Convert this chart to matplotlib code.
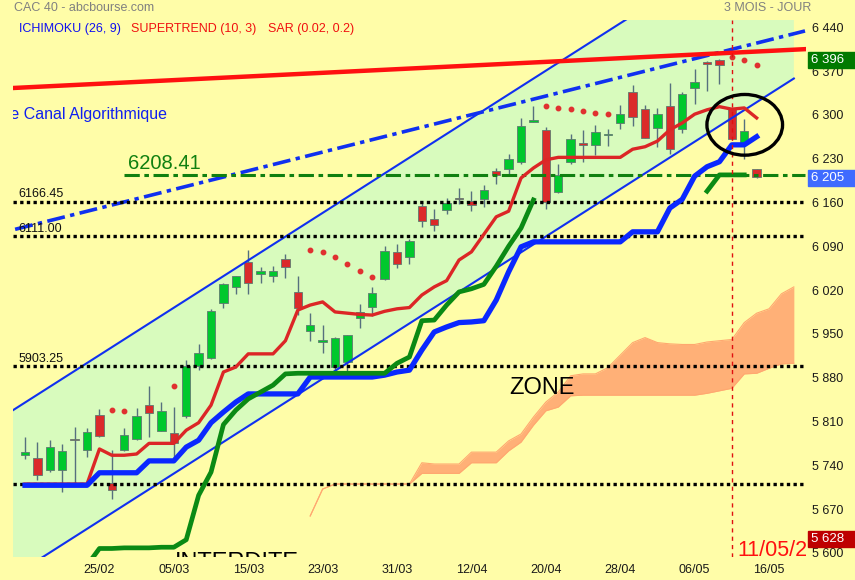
import numpy as np
import matplotlib
matplotlib.use('Agg')
import matplotlib.pyplot as plt
from matplotlib.patches import Ellipse, Rectangle
import matplotlib.transforms as mtransforms

plt.rcParams['font.family'] = ['Liberation Sans', 'DejaVu Sans']

# ---- données (CAC 40, bougies journalières) ----
opens = [5762, 5757, 5737, 5737, 5787, 5770, 5825, 5717, 5769, 5787,
         5841, 5800, 5796, 5823, 5903, 5916, 6004, 6030, 6070, 6050,
         6048, 6075, 6022, 5960, 5942, 5902, 5910, 5980, 5998, 6043,
         6085, 6078, 6160, 6138, 6153, 6172, 6167, 6171, 6215, 6219,
         6229, 6294, 6281, 6181, 6230, 6260, 6256, 6273, 6292, 6341,
         6315, 6284, 6319, 6283, 6348, 6389, 6393, 6314, 6259, 6218]
highs = [5790, 5782, 5785, 5779, 5806, 5804, 5835, 5769, 5804, 5836,
         5872, 5846, 5838, 5913, 5939, 5994, 6037, 6047, 6089, 6062,
         6063, 6082, 6047, 5988, 5969, 5950, 5953, 6003, 6030, 6095,
         6098, 6106, 6164, 6155, 6172, 6188, 6183, 6193, 6220, 6243,
         6300, 6319, 6286, 6227, 6274, 6281, 6289, 6282, 6320, 6353,
         6320, 6316, 6356, 6341, 6378, 6391, 6394, 6315, 6299, 6219]
lows = [5755, 5722, 5735, 5703, 5717, 5758, 5790, 5691, 5767, 5786,
        5790, 5799, 5752, 5820, 5897, 5914, 5997, 6019, 6019, 6036,
        6038, 6045, 5985, 5944, 5924, 5898, 5895, 5964, 5984, 6041,
        6060, 6066, 6126, 6120, 6146, 6162, 6152, 6157, 6194, 6210,
        6227, 6293, 6155, 6180, 6227, 6229, 6241, 6255, 6283, 6287,
        6268, 6254, 6242, 6276, 6323, 6343, 6355, 6266, 6235, 6204]
closes = [5766, 5729, 5774, 5768, 5785, 5798, 5791, 5706, 5793, 5823,
          5829, 5831, 5780, 5903, 5925, 5991, 6035, 6047, 6036, 6055,
          6055, 6062, 5997, 5969, 5945, 5948, 5953, 5990, 6020, 6088,
          6067, 6103, 6136, 6129, 6164, 6170, 6161, 6185, 6209, 6234,
          6287, 6297, 6166, 6209, 6267, 6256, 6277, 6274, 6307, 6302,
          6268, 6307, 6251, 6339, 6357, 6386, 6384, 6267, 6279, 6205]

supertrend = [5715, 5715, 5715, 5715, 5715, 5715, 5771, 5761, 5761, 5763,
              5780, 5780, 5780, 5801, 5813, 5841, 5894, 5902, 5923, 5923,
              5923, 5944, 5993, 6001, 6006, 5990, 5988, 5986, 5985, 5991,
              5995, 5997, 6017, 6030, 6040, 6073, 6086, 6114, 6142, 6151,
              6204, 6220, 6233, 6237, 6237, 6237, 6237, 6237, 6237, 6250,
              6254, 6263, 6281, 6292, 6306, 6313, 6318, 6314, 6316, 6300]

kijun = [5713, 5713, 5713, 5713, 5713, 5713, 5733, 5733, 5733, 5733,
         5752, 5752, 5752, 5774, 5785, 5813, 5830, 5846, 5859, 5859,
         5859, 5859, 5859, 5886, 5886, 5886, 5886, 5886, 5886, 5889,
         5894, 5897, 5929, 5958, 5966, 5973, 5974, 5976, 6009, 6054,
         6094, 6102, 6102, 6102, 6102, 6102, 6102, 6102, 6102, 6118,
         6118, 6118, 6156, 6170, 6207, 6222, 6230, 6257, 6257, 6270]

nan = np.nan
green_line = [nan, nan, nan, nan, nan, 5585, 5612, 5612, 5613, 5613,
              5613, 5614, 5614, 5626, 5697, 5734, 5810, 5833, 5851, 5862,
              5873, 5891, 5892, 5892, 5892, 5892, 5892, 5892, 5892, 5892,
              5908, 5918, 5976, 5977, 6001, 6022, 6027, 6034, 6063, 6095,
              6124, 6169, nan, nan, nan, nan, nan, nan, nan, nan,
              nan, nan, nan, nan, nan, 6183, 6209, 6209, 6209, nan]

sar = [nan] * 60
for k, v in {7: 5834, 8: 5832, 12: 5872, 23: 6089, 24: 6086, 25: 6078,
             26: 6067, 27: 6055, 28: 6046, 42: 6319, 43: 6316, 44: 6314,
             45: 6311, 46: 6308, 47: 6307, 57: 6397, 58: 6392, 59: 6384}.items():
    sar[k] = v

# nuage ichimoku (index 23 -> 62)
cloud_x = list(range(23, 63))
cloud_top = [5664, 5707, 5715, 5715, 5715, 5715, 5715, 5715, 5715, 5749,
             5747, 5747, 5747, 5766, 5766, 5766, 5784, 5795, 5822, 5846,
             5862, 5888, 5891, 5891, 5901, 5921, 5941, 5949, 5941, 5939,
             5938, 5938, 5942, 5944, 5946, 5973, 5988, 5995, 6019, 6030]
cloud_bot = [5664, 5707, 5715, 5715, 5715, 5715, 5715, 5715, 5715, 5732,
             5732, 5732, 5732, 5749, 5749, 5749, 5768, 5782, 5809, 5832,
             5838, 5856, 5857, 5857, 5857, 5857, 5857, 5857, 5857, 5857,
             5857, 5857, 5860, 5864, 5868, 5891, 5892, 5900, 5907, 5908]

# canal algorithmique
chan_x = [-0.97, 62.0]
chan_low = [5568, 6363]
chan_width = 265
mid_x = [-0.8, 62.9]
mid_y = [6122, 6439]
res_x = [-0.8, 63.0]
res_y = [6348, 6410]

levels = [6166.45, 6111.00, 5903.25, 5714.5]
level_labels = ['6166.45', '6111.00', '5903.25', '']
pivot = 6208.41

date_pos = [6, 12, 18, 24, 30, 36, 42, 48, 54, 60]
date_labels = ['25/02', '05/03', '15/03', '23/03', '31/03',
               '12/04', '20/04', '28/04', '06/05', '16/05']
price_ticks = list(range(5600, 6441, 70))

# ---- couleurs ----
bg = '#FFFDA8'
chan_fill = '#D8FBBD'
c_up = '#00C82D'
c_down = '#DB2A2A'

fig = plt.figure(figsize=(8.55, 5.80), dpi=100, facecolor=bg)
ax = fig.add_axes([13 / 855, 23 / 580, 793 / 855, 537 / 580], facecolor=bg)
for s in ax.spines.values():
    s.set_visible(False)
ax.set_xlim(-0.97, 62.98)
ax.set_ylim(5598.4, 6456.5)

# canal
lo = np.array(chan_low)
ax.fill_between(chan_x, lo, lo + chan_width, color=chan_fill, lw=0, zorder=0)
ax.plot(chan_x, lo, color='#1030F0', lw=1.5, zorder=5)
ax.plot(chan_x, lo + chan_width, color='#1030F0', lw=1.5, zorder=5)
ax.plot(mid_x, mid_y, color='#1030F0', lw=2.6, dashes=(5, 1.5, 1.2, 1.5), zorder=5)
ax.plot(res_x, res_y, color='#FF1010', lw=3.2, zorder=5)

# nuage
ax.fill_between(cloud_x, cloud_bot, cloud_top, color='#FFB077', lw=0, zorder=1)
ax.plot(cloud_x, cloud_top, color='#FFA870', lw=0.8, zorder=1)
ax.plot(cloud_x, cloud_bot, color='#FFA870', lw=0.8, zorder=1)

# niveaux horizontaux
for lv, lab in zip(levels, level_labels):
    ax.plot([-0.97, 62.7], [lv, lv], color='black', lw=2.4, dashes=(1, 1), zorder=6)
    if lab:
        ax.text(-0.56, lv + 2, lab, fontsize=9, color='#111111', va='bottom', zorder=7)
ax.plot([7.98, 62.9], [pivot, pivot], color='#108010', lw=2.2,
        dashes=(5, 1.5, 1.5, 1.5), zorder=6)
ax.text(8.3, pivot + 4, '6208.41', fontsize=14.5, color='#108010', va='bottom', zorder=7)

# bougies
x = np.arange(len(opens))
o = np.array(opens, float)
h = np.array(highs, float)
l = np.array(lows, float)
c = np.array(closes, float)
up = c >= o
ax.vlines(x, l, h, color='#56707E', lw=1, zorder=3)
ax.bar(x, np.maximum(np.abs(c - o), 2.0), bottom=np.minimum(o, c), width=0.68,
       color=np.where(up, c_up, c_down), edgecolor='#5F7A70', lw=0.6, zorder=4)

# indicateurs
ax.plot(x, supertrend, color='#DC2626', lw=2.4, zorder=8, solid_joinstyle='round')
ax.plot(x, kijun, color='#0A28FF', lw=3.8, zorder=8, solid_joinstyle='round')
ax.plot(x, green_line, color='#0A8A14', lw=3.4, zorder=8, solid_joinstyle='round')
ax.plot(x, sar, 'o', ms=3.2, color='#E03030', zorder=9)

# date courante
ax.axvline(57, color='#E01010', lw=1, dashes=(3, 3), zorder=9)
ax.text(57.46, 5599.5, '11/05/2021', fontsize=15.5, color='#FF1010', va='baseline',
        clip_on=True, zorder=9)
ax.add_patch(Ellipse((58.04, 6289), 6.1, 97, fill=False, ec='black', lw=2.4, zorder=10))

# textes
ax.text(41.7, 5868, 'ZONE', fontsize=17, color='black', ha='center', va='center', zorder=9)
ax.text(17.1, 5607, 'INTERDITE', fontsize=17, color='black', ha='center', va='top',
        clip_on=True, zorder=9)
ax.text(11.48, 6306, 'Tendance Canal Algorithmique', fontsize=11.5, color='#1020F0',
        ha='right', va='center', clip_on=True, zorder=9)

# axes
ax.set_xticks(date_pos)
ax.set_xticklabels(date_labels)
ax.set_yticks(price_ticks)
ax.set_yticklabels([f'{v // 1000} {v % 1000:03d}' for v in price_ticks])
ax.yaxis.tick_right()
ax.tick_params(axis='both', length=0, labelsize=9, labelcolor='#1A1A1A')
ax.tick_params(axis='y', pad=4)
ax.tick_params(axis='x', pad=5)
shift = mtransforms.ScaledTranslation(0, 3 / 100, fig.dpi_scale_trans)
for t in ax.get_yticklabels():
    t.set_transform(t.get_transform() + shift)

# étiquettes de prix à droite
tr = mtransforms.blended_transform_factory(fig.transFigure, ax.transData)
for val, col, txt in [(6393, '#007A00', '6 396'), (6203.5, '#3F6BFF', '6 205'),
                      (5627.6, '#BE0000', '5 628')]:
    ax.add_patch(Rectangle((808 / 855, val - 12.8), 47 / 855, 25.6, transform=tr,
                           color=col, clip_on=False, zorder=11))
    ax.text(811 / 855, val, txt, transform=tr, color='white', fontsize=9.5,
            va='center', zorder=12, clip_on=False)

# en-tête
fig.text(14 / 855, 1 - 8 / 580, 'CAC 40 - abcbourse.com', color='#808080', fontsize=9, va='center')
fig.text(724 / 855, 1 - 8 / 580, '3 MOIS - JOUR', color='#808080', fontsize=9, va='center')
fig.text(19 / 855, 1 - 29 / 580, 'ICHIMOKU (26, 9)', color='#1010F0', fontsize=9, va='center')
fig.text(131 / 855, 1 - 29 / 580, 'SUPERTREND (10, 3)', color='#F01010', fontsize=9, va='center')
fig.text(268 / 855, 1 - 29 / 580, 'SAR (0.02, 0.2)', color='#F01010', fontsize=9, va='center')

fig.savefig('out.png', dpi=100, facecolor=bg)
